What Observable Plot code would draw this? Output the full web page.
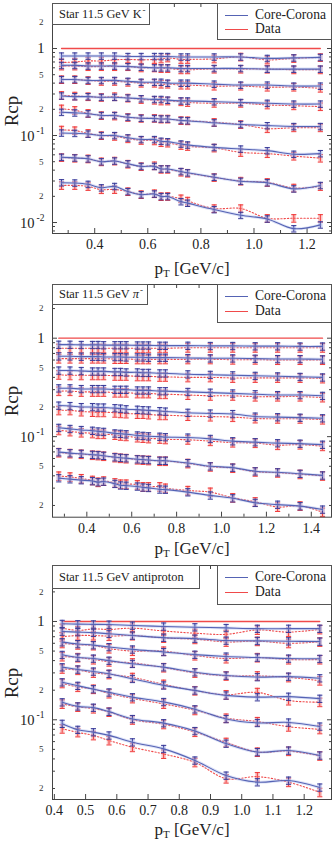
<!DOCTYPE html>
<html><head><meta charset="utf-8">
<script src="https://cdn.jsdelivr.net/npm/d3@7"></script>
<script src="https://cdn.jsdelivr.net/npm/@observablehq/plot@0.6"></script>
<style>
body{margin:0;background:#fff;font-family:"Liberation Serif","Times New Roman",serif;color:#222;}
.panel{position:relative;width:332px;}
.panel svg{display:block;}
.panel svg, .panel svg text{font-family:"Liberation Serif","Times New Roman",serif !important;}
.box{position:absolute;border:1px solid #555;background:#fff;box-sizing:border-box;font-family:"Liberation Serif",serif;}
.ttl{font-size:12.4px;white-space:nowrap;padding-left:6px;overflow:visible;}
.ttl .sp{display:inline-block;font-size:9px;transform:translateY(-5px);margin-left:1px;}
.leg .ln{position:absolute;left:7px;width:23px;height:1px;}
.leg .tx{position:absolute;left:37px;font-size:13.6px;white-space:nowrap;line-height:14px;}
.rcp{position:absolute;left:12px;font-size:19px;transform:translate(-50%,-50%) rotate(-90deg);white-space:nowrap;font-family:"Liberation Serif",serif;}
.xl{position:absolute;left:192px;transform:translate(-50%,-50%);font-size:17px;white-space:nowrap;font-family:"Liberation Serif",serif;line-height:17px;}
.xl sub{font-size:11px;vertical-align:-3px;line-height:0;}
</style></head><body><div id="root"></div><script>
// ---------- K- panel ----------
const kaonX = [0.275,0.325,0.375,0.425,0.475,0.525,0.575,0.625,0.65,0.675,0.725,0.75,0.85,0.95,1.05,1.15,1.25];
const kaonModel = [
 [0.82,0.82,0.82,0.82,0.82,0.81,0.81,0.81,0.81,0.81,0.80,0.80,0.80,0.80,0.77,0.78,0.79],
 [0.64,0.64,0.63,0.63,0.63,0.62,0.61,0.60,0.60,0.60,0.59,0.59,0.59,0.59,0.58,0.58,0.58],
 [0.44,0.44,0.43,0.43,0.43,0.42,0.41,0.41,0.41,0.40,0.40,0.40,0.39,0.38,0.38,0.37,0.37],
 [0.285,0.28,0.28,0.275,0.275,0.27,0.265,0.26,0.26,0.255,0.25,0.25,0.245,0.24,0.235,0.23,0.23],
 [0.185,0.182,0.178,0.17,0.17,0.162,0.158,0.157,0.155,0.155,0.149,0.148,0.14,0.134,0.13,0.127,0.127],
 [0.107,0.106,0.104,0.10,0.10,0.094,0.09,0.09,0.086,0.085,0.08,0.078,0.073,0.07,0.067,0.061,0.062],
 [0.0563,0.0553,0.054,0.05,0.051,0.0473,0.0442,0.0442,0.0413,0.0413,0.0386,0.0373,0.0332,0.0298,0.0287,0.0244,0.0267],
 [0.0287,0.0285,0.0275,0.0251,0.026,0.0227,0.0209,0.0213,0.0199,0.0199,0.0174,0.0167,0.0141,0.0121,0.011,0.0085,0.0094]
];
const kaonData = [
 [0.69,0.70,0.72,0.72,0.74,0.75,0.74,0.75,0.76,0.78,0.75,0.75,0.76,0.80,0.74,0.77,0.79],
 [0.63,0.63,0.62,0.62,0.62,0.62,0.60,0.60,0.59,0.59,0.57,0.57,0.58,0.58,0.58,0.57,0.57],
 [0.44,0.44,0.43,0.42,0.42,0.41,0.40,0.40,0.39,0.39,0.38,0.38,0.37,0.37,0.36,0.36,0.35],
 [0.29,0.285,0.28,0.275,0.28,0.27,0.26,0.255,0.25,0.25,0.245,0.24,0.235,0.235,0.225,0.22,0.215],
 [0.203,0.195,0.18,0.17,0.168,0.162,0.158,0.158,0.155,0.155,0.149,0.148,0.142,0.134,0.12,0.123,0.123],
 [0.116,0.114,0.106,0.10,0.098,0.092,0.088,0.087,0.083,0.082,0.077,0.075,0.072,0.064,0.062,0.058,0.055],
 [0.056,0.055,0.054,0.05,0.051,0.047,0.044,0.045,0.041,0.041,0.038,0.037,0.033,0.030,0.029,0.025,0.026],
 [0.0267,0.0267,0.026,0.0239,0.024,0.0227,0.021,0.0215,0.0199,0.02,0.0188,0.0177,0.0145,0.0145,0.0112,0.0112,0.0112]
];
// ---------- pi- panel ----------
const pionX = [0.275,0.325,0.375,0.425,0.45,0.475,0.525,0.55,0.575,0.625,0.65,0.675,0.725,0.75,0.85,0.95,1.05,1.15,1.25,1.35,1.45];
const pionModel = [
 [0.86,0.86,0.855,0.855,0.855,0.85,0.85,0.85,0.85,0.845,0.845,0.845,0.84,0.84,0.84,0.835,0.835,0.83,0.83,0.825,0.825],
 [0.655,0.655,0.65,0.65,0.65,0.645,0.645,0.645,0.64,0.64,0.64,0.635,0.635,0.635,0.63,0.625,0.625,0.62,0.615,0.615,0.61],
 [0.47,0.47,0.465,0.46,0.46,0.46,0.455,0.455,0.45,0.45,0.445,0.445,0.44,0.44,0.43,0.425,0.42,0.415,0.41,0.405,0.40],
 [0.31,0.31,0.305,0.305,0.305,0.305,0.30,0.30,0.30,0.295,0.295,0.295,0.29,0.29,0.285,0.28,0.275,0.27,0.265,0.265,0.26],
 [0.207,0.205,0.20,0.20,0.198,0.198,0.195,0.193,0.19,0.188,0.186,0.185,0.182,0.18,0.175,0.172,0.17,0.16,0.158,0.156,0.154],
 [0.123,0.12,0.117,0.115,0.113,0.112,0.108,0.107,0.106,0.103,0.102,0.101,0.10,0.099,0.098,0.095,0.09,0.088,0.086,0.085,0.083],
 [0.0696,0.068,0.067,0.0655,0.065,0.064,0.0619,0.061,0.0605,0.059,0.0585,0.058,0.057,0.057,0.054,0.05,0.0485,0.0445,0.0435,0.042,0.0404],
 [0.0379,0.037,0.0362,0.0354,0.0345,0.035,0.0332,0.032,0.0318,0.0312,0.0305,0.0302,0.0291,0.029,0.0273,0.0253,0.0237,0.0213,0.0204,0.0197,0.0182]
];
const pionData = [
 [0.79,0.79,0.79,0.79,0.79,0.79,0.79,0.79,0.79,0.79,0.79,0.79,0.79,0.79,0.80,0.80,0.80,0.80,0.80,0.80,0.80],
 [0.62,0.62,0.62,0.62,0.62,0.62,0.615,0.615,0.615,0.61,0.61,0.61,0.61,0.61,0.61,0.61,0.605,0.605,0.60,0.60,0.60],
 [0.425,0.42,0.42,0.42,0.42,0.42,0.415,0.415,0.415,0.41,0.41,0.41,0.405,0.405,0.40,0.40,0.395,0.395,0.395,0.395,0.39],
 [0.29,0.29,0.285,0.285,0.285,0.285,0.28,0.28,0.28,0.275,0.275,0.275,0.27,0.27,0.265,0.26,0.26,0.255,0.255,0.255,0.25],
 [0.185,0.185,0.18,0.178,0.177,0.177,0.175,0.173,0.172,0.17,0.17,0.168,0.165,0.165,0.162,0.16,0.158,0.153,0.152,0.152,0.149],
 [0.116,0.113,0.11,0.108,0.106,0.106,0.104,0.102,0.101,0.098,0.097,0.096,0.095,0.094,0.093,0.09,0.087,0.086,0.082,0.083,0.08],
 [0.069,0.0675,0.0665,0.065,0.0645,0.0635,0.0615,0.0605,0.06,0.0585,0.058,0.0575,0.0565,0.0565,0.0535,0.0495,0.048,0.044,0.043,0.0415,0.040],
 [0.0398,0.039,0.0375,0.036,0.0345,0.0355,0.034,0.033,0.033,0.0325,0.031,0.031,0.031,0.030,0.0284,0.0273,0.024,0.0218,0.0193,0.0198,0.0171]
];
// ---------- antiproton panel ----------
const pbarX = [0.425,0.475,0.525,0.575,0.65,0.75,0.85,0.95,1.05,1.15,1.25];
const pbarModel = [
 [0.947,0.94,0.935,0.93,0.91,0.89,0.875,0.86,0.845,0.845,0.845],
 [0.79,0.78,0.77,0.75,0.72,0.685,0.67,0.64,0.635,0.63,0.625],
 [0.616,0.59,0.575,0.55,0.52,0.49,0.46,0.44,0.43,0.42,0.417],
 [0.458,0.43,0.42,0.40,0.371,0.343,0.305,0.282,0.272,0.275,0.265],
 [0.343,0.325,0.31,0.294,0.261,0.224,0.199,0.177,0.17,0.172,0.164],
 [0.241,0.222,0.205,0.19,0.17,0.152,0.128,0.102,0.093,0.094,0.0855],
 [0.151,0.137,0.133,0.121,0.102,0.0925,0.077,0.0573,0.047,0.0487,0.0434],
 [0.0912,0.0792,0.0749,0.0694,0.0591,0.0506,0.0386,0.0271,0.0232,0.0241,0.0205]
];
const pbarData = [
 [0.855,0.81,0.84,0.83,0.855,0.80,0.76,0.74,0.82,0.78,0.83],
 [0.70,0.72,0.72,0.71,0.72,0.68,0.66,0.62,0.63,0.60,0.62],
 [0.60,0.58,0.57,0.53,0.50,0.50,0.45,0.42,0.43,0.41,0.41],
 [0.44,0.43,0.41,0.39,0.38,0.34,0.30,0.28,0.28,0.27,0.25],
 [0.33,0.32,0.30,0.29,0.27,0.23,0.198,0.18,0.19,0.157,0.151],
 [0.235,0.215,0.205,0.185,0.165,0.145,0.125,0.104,0.096,0.085,0.08],
 [0.145,0.135,0.13,0.12,0.10,0.09,0.075,0.059,0.047,0.048,0.043],
 [0.0811,0.0744,0.0694,0.0616,0.0526,0.0449,0.0369,0.0252,0.0264,0.0232,0.0183]
];
const modelErr = 0.085, dataErr = 0.10;
const legendLabels = ["Core-Corona","Data"];

const BLUE = "#5563b4", BLUE_D = "#3b3b98", BLUE_L = "#a9b7ea";
const RED = "#f04a4a", RED_D = "#f03a3a", RED_L = "#f7a9a9";
const cap = {draw(ctx, size){ const l = Math.sqrt(size/Math.PI); ctx.moveTo(-l,0); ctx.lineTo(l,0); }};

function rowsOf(xs, series){
  const out = [];
  series.forEach((s,ci)=> s.forEach((v,i)=> out.push({x: xs[i], y: v, curve: ci})));
  return out;
}

function errMarks(rows, e, dark, light, op){
  return [
    Plot.ruleX(rows, {x:"x", y1: d=>d.y*(1-e*1.05), y2: d=>d.y*(1+e*1.05), stroke: light, strokeWidth: 4.5, strokeOpacity: op}),
    Plot.ruleX(rows, {x:"x", y1: d=>d.y*(1-e), y2: d=>d.y*(1+e), stroke: dark, strokeWidth: 1}),
    Plot.dot(rows, {x:"x", y: d=>d.y*(1-e), symbol: cap, r: 2.6, stroke: dark, fill: "none", strokeWidth: 1}),
    Plot.dot(rows, {x:"x", y: d=>d.y*(1+e), symbol: cap, r: 2.6, stroke: dark, fill: "none", strokeWidth: 1})
  ];
}

const yMajor = [0.01, 0.1, 1];
const yMinorAll = [];
for (const dec of [0.001,0.01,0.1,1]) for (let k=2;k<=9;k++) yMinorAll.push(+(dec*k).toPrecision(3));

const panels = [
  {xs: kaonX, model: kaonModel, data: kaonData, xdom:[0.241,1.292], ydom:[0.00748,3.29], H:281, mb:48,
   major:[0.4,0.6,0.8,1.0,1.2], minor:[0.3,0.5,0.7,0.9,1.1], title:'Star 11.5 GeV K<span class="sp">-</span>', tw:98, th:22, lh:37,
   labels:[2,1,0.5,0.2,0.1,0.05,0.02,0.01], rcpY:111, xlY:268},
  {xs: pionX, model: pionModel, data: pionData, xdom:[0.247,1.49], ydom:[0.0152,3.51], H:281, mb:45.3,
   major:[0.4,0.6,0.8,1.0,1.2,1.4], minor:[0.3,0.5,0.7,0.9,1.1,1.3], title:'Star 11.5 GeV <i>π</i><span class="sp">-</span>', tw:96, th:21, lh:39,
   labels:[2,1,0.5,0.2,0.1,0.05,0.02], rcpY:120, xlY:267},
  {xs: pbarX, model: pbarModel, data: pbarData, xdom:[0.394,1.2875], ydom:[0.01546,3.71], H:280, mb:43,
   major:[0.4,0.5,0.6,0.7,0.8,0.9,1.0,1.1,1.2], minor:[], title:'Star 11.5 GeV antiproton', tw:148, th:24, lh:40,
   labels:[2,1,0.5,0.2,0.1,0.05,0.02], rcpY:121, xlY:267}
];

const root = document.getElementById("root");
for (const p of panels){
  const mRows = rowsOf(p.xs, p.model), dRows = rowsOf(p.xs, p.data);
  const yMinor = yMinorAll.filter(v=>v>=p.ydom[0] && v<=p.ydom[1]);
  const yMaj = yMajor.filter(v=>v>=p.ydom[0] && v<=p.ydom[1]);
  const small = p.labels.filter(v=>!yMajor.includes(v));
  const ref = [{x:p.xs[0], y:1},{x:p.xs[p.xs.length-1], y:1}];
  const noText = () => "";
  const ax = {label: null, stroke:"#444"};
  const chart = Plot.plot({
    width: 332, height: p.H, marginLeft: 52, marginRight: 1, marginTop: 3, marginBottom: p.mb,
    x: {type:"linear", domain: p.xdom, label: null},
    y: {type:"log", domain: p.ydom, label: null},
    style: {fontFamily:'"Liberation Serif","Times New Roman",serif', background:"#fff", color:"#333"},
    marks: [
      Plot.axisX({...ax, ticks: p.minor, tickSize:-3, tickFormat: noText}),
      Plot.axisX({...ax, ticks: p.major, tickSize:-5, tickPadding: 11, tickFormat: d3.format(".1f"), fontSize: 14, fill:"#222"}),
      Plot.axisX({...ax, anchor:"top", ticks: p.minor.concat(p.major), tickSize:-3, tickFormat: noText}),
      Plot.axisY({...ax, ticks: yMinor, tickSize:-3, tickFormat: noText}),
      Plot.axisY({...ax, ticks: yMaj, tickSize:-5, tickFormat: noText}),
      Plot.axisY({...ax, anchor:"right", ticks: yMinor, tickSize:-3, tickFormat: noText}),
      Plot.axisY({...ax, anchor:"right", ticks: yMaj, tickSize:-5, tickFormat: noText}),
      Plot.text(small, {y: d=>d, text: d=>String(Math.round(d/Math.pow(10,Math.floor(Math.log10(d)+1e-9)))), frameAnchor:"left", textAnchor:"end", dx:-9, fontSize:9, fill:"#333"}),
      Plot.text(p.labels.filter(v=>v===1), {y: d=>d, text: ()=>"1", frameAnchor:"left", textAnchor:"end", dx:-8, fontSize:14.5, fill:"#222"}),
      Plot.text(p.labels.filter(v=>v<1 && yMajor.includes(v)), {y: d=>d, text: ()=>"10", frameAnchor:"left", textAnchor:"end", dx:-18, dy:1, fontSize:14.5, fill:"#222"}),
      Plot.text(p.labels.filter(v=>v<1 && yMajor.includes(v)), {y: d=>d, text: d=>"-"+Math.round(-Math.log10(d)), frameAnchor:"left", textAnchor:"end", dx:-8, dy:-5, fontSize:9.5, fill:"#222"}),
      Plot.line(ref, {x:"x", y:"y", stroke: RED, strokeWidth: 1.3}),
      ...errMarks(dRows, dataErr, RED_D, RED_L, 0.65),
      Plot.line(dRows, {x:"x", y:"y", z:"curve", stroke: RED, strokeWidth: 1.1, strokeDasharray:"1.3,2", curve:"catmull-rom"}),
      ...errMarks(mRows, modelErr, BLUE_D, BLUE_L, 0.55),
      Plot.line(mRows, {x:"x", y:"y", z:"curve", stroke: BLUE_L, strokeWidth: 3, strokeOpacity: 0.4, curve:"catmull-rom"}),
      Plot.line(mRows, {x:"x", y:"y", z:"curve", stroke: BLUE, strokeWidth: 1.1, curve:"catmull-rom"}),
      Plot.frame({stroke:"#444", strokeWidth: 1})
    ]
  });
  const div = document.createElement("div");
  div.className = "panel";
  div.style.height = p.H + "px";
  div.appendChild(chart);
  const t = document.createElement("div");
  t.className = "box ttl";
  Object.assign(t.style, {left:"52px", top:"3px", width:p.tw+"px", height:p.th+"px", lineHeight:(p.th-2)+"px"});
  t.innerHTML = p.title;
  div.appendChild(t);
  const lg = document.createElement("div");
  lg.className = "box leg";
  Object.assign(lg.style, {left:"217px", top:"3px", width:"115px", height:p.lh+"px"});
  [[BLUE, legendLabels[0]],[RED, legendLabels[1]]].forEach(([c,l],i)=>{
    const yy = Math.round(11 + i*p.lh*0.38);
    const ln = document.createElement("div"); ln.className="ln"; ln.style.background=c; ln.style.top=yy+"px"; lg.appendChild(ln);
    const tx = document.createElement("div"); tx.className="tx"; tx.style.top=(yy-7)+"px"; tx.textContent=l; lg.appendChild(tx);
  });
  div.appendChild(lg);
  const r = document.createElement("div"); r.className="rcp"; r.style.top=p.rcpY+"px"; r.textContent="Rcp"; div.appendChild(r);
  const xl = document.createElement("div"); xl.className="xl"; xl.style.top=p.xlY+"px"; xl.innerHTML="p<sub>T</sub> [GeV/c]"; div.appendChild(xl);
  root.appendChild(div);
}
</script></body></html>
